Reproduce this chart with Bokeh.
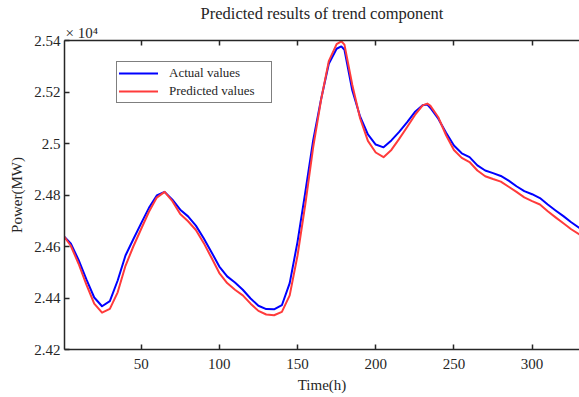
from bokeh.plotting import figure
from bokeh.models import (LinearAxis, FixedTicker, CustomJSTickFormatter, Legend,
                          LegendItem, Range1d, Title)
from bokeh.embed import file_html
from bokeh.resources import INLINE

time_h = [1, 5, 10, 15, 20, 25, 30, 35, 40, 45, 50, 55, 60, 65, 70, 75, 80, 85, 90, 95,
          100, 105, 110, 115, 120, 125, 130, 135, 140, 145, 150, 155, 160, 165, 170, 175,
          178, 180, 185, 190, 195, 200, 205, 210, 215, 220, 225, 230, 233, 235, 240, 245,
          250, 255, 260, 265, 270, 275, 280, 285, 290, 295, 300, 305, 310, 315, 320, 325, 330]

actual = [2.4637, 2.4612, 2.4548, 2.4472, 2.4402, 2.4368, 2.4388, 2.4468, 2.4565, 2.4628,
          2.4690, 2.4750, 2.4798, 2.4812, 2.4782, 2.4743, 2.4717, 2.4681, 2.4632, 2.4578,
          2.4522, 2.4484, 2.4460, 2.4432, 2.4398, 2.4370, 2.4357, 2.4356, 2.4372, 2.4458,
          2.4618, 2.4812, 2.5012, 2.5170, 2.5310, 2.5368, 2.5377, 2.5364, 2.5207, 2.5105,
          2.5035, 2.4996, 2.4985, 2.5012, 2.5045, 2.5082, 2.5122, 2.5149, 2.5151, 2.5138,
          2.5096, 2.5042, 2.4992, 2.4962, 2.4947, 2.4915, 2.4895, 2.4885, 2.4874, 2.4856,
          2.4834, 2.4815, 2.4803, 2.4788, 2.4763, 2.4740, 2.4718, 2.4694, 2.4673]

predicted = [2.4637, 2.4603, 2.4533, 2.4452, 2.4378, 2.4343, 2.4358, 2.4422, 2.4525, 2.4600,
             2.4668, 2.4735, 2.4790, 2.4812, 2.4776, 2.4726, 2.4698, 2.4664, 2.4614, 2.4556,
             2.4497, 2.4458, 2.4432, 2.4410, 2.4378, 2.4350, 2.4336, 2.4333, 2.4346, 2.4410,
             2.4565, 2.4765, 2.4985, 2.5168, 2.5320, 2.5386, 2.5397, 2.5384, 2.5228, 2.5098,
             2.5010, 2.4965, 2.4947, 2.4975, 2.5018, 2.5063, 2.5110, 2.5148, 2.5155, 2.5146,
             2.5102, 2.5032, 2.4975, 2.4944, 2.4928, 2.4895, 2.4873, 2.4862, 2.4852, 2.4832,
             2.4812, 2.4791, 2.4776, 2.4763, 2.4737, 2.4713, 2.4690, 2.4667, 2.4648]

x_ticks = [50, 100, 150, 200, 250, 300]
y_ticks = [2.42, 2.44, 2.46, 2.48, 2.50, 2.52, 2.54]

FONT = "Liberation Serif"
TXT = "#262626"

p = figure(width=579, height=397, output_backend="svg", toolbar_location=None,
           x_range=Range1d(1, 330.3), y_range=Range1d(2.42, 2.54),
           min_border_left=64, min_border_right=0, min_border_top=40, min_border_bottom=48)
p.outline_line_color = None
p.xgrid.visible = False
p.ygrid.visible = False

def style_axis(ax):
    ax.axis_line_color = TXT
    ax.axis_line_width = 1.5
    ax.major_tick_line_color = TXT
    ax.major_tick_line_width = 1.5
    ax.major_tick_in = 5
    ax.major_tick_out = 0
    ax.minor_tick_line_color = None
    ax.major_label_text_font = FONT
    ax.major_label_text_font_size = "15px"
    ax.major_label_text_color = TXT
    ax.axis_label_text_font = FONT
    ax.axis_label_text_font_size = "15px"
    ax.axis_label_text_font_style = "normal"
    ax.axis_label_text_color = TXT

xax = p.xaxis[0]
xax.ticker = FixedTicker(ticks=x_ticks)
xax.axis_label = "Time(h)"
style_axis(xax)
xax.major_label_standoff = 9
xax.axis_label_standoff = 5

yax = p.yaxis[0]
yax.ticker = FixedTicker(ticks=y_ticks)
yax.formatter = CustomJSTickFormatter(code="return parseFloat(tick.toFixed(2)).toString();")
yax.axis_label = "Power(MW)"
style_axis(yax)
yax.major_label_standoff = 4
yax.axis_label_standoff = 6

top = LinearAxis(ticker=FixedTicker(ticks=x_ticks),
                 formatter=CustomJSTickFormatter(code="return '';"))
style_axis(top)
top.major_label_text_font_size = "1px"
top.major_label_standoff = 0
p.add_layout(top, "above")

exp_title = Title(text="× 10⁴", align="left", offset=1, standoff=0,
                  text_font=FONT, text_font_size="15px", text_font_style="normal",
                  text_color=TXT)
p.add_layout(exp_title, "above")

p.title.text = "Predicted results of trend component"
p.title.align = "center"
p.title.offset = 4
p.title.standoff = 0
p.title.text_font = FONT
p.title.text_font_size = "16.5px"
p.title.text_font_style = "normal"
p.title.text_color = TXT

r1 = p.line(time_h, actual, line_color="#0000FF", line_width=2,
            line_join="round", line_cap="round")
r2 = p.line(time_h, predicted, line_color="#FF3B3B", line_width=2,
            line_join="round", line_cap="round")

legend = Legend(items=[LegendItem(label="Actual values", renderers=[r1]),
                       LegendItem(label="Predicted values", renderers=[r2])],
                location=(52, 246), orientation="vertical",
                padding=2, spacing=0, margin=0,
                glyph_width=39, glyph_height=18, label_height=18,
                label_standoff=11, label_width=100,
                label_text_font=FONT, label_text_font_size="13px", label_text_color=TXT,
                border_line_color="#000000", border_line_width=1.5,
                background_fill_color="white", background_fill_alpha=1)
p.add_layout(legend)

open("out.html", "w").write(file_html(p, INLINE))
